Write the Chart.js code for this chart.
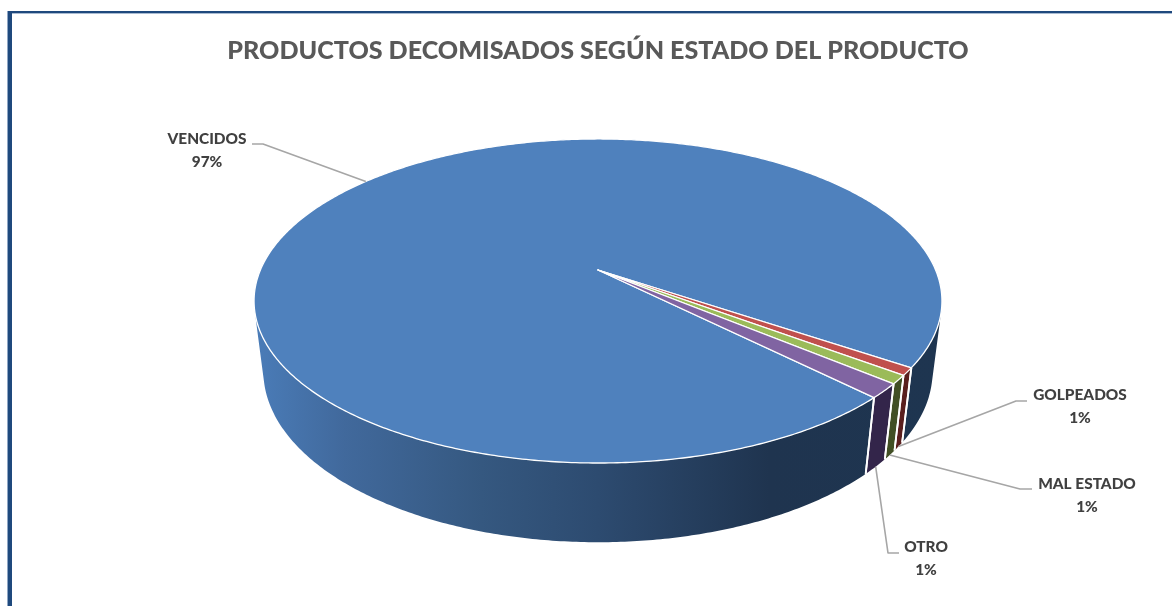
<!DOCTYPE html>
<html lang="es">
<head>
<meta charset="utf-8">
<title>Productos decomisados</title>
<script src="https://cdn.jsdelivr.net/npm/chart.js@4"></script>
<style>
    html, body { margin: 0; padding: 0; background: #fff; overflow: hidden; }
    #bordeIzq { position: absolute; left: 8px; top: 11px; width: 4px; height: 595px; background: #1F497D; box-shadow: -1px 0 0 #8FA6C4; }
    #bordeSup { position: absolute; left: 8px; top: 11px; right: 0; height: 2px; background: #1F497D; box-shadow: 0 1px 0 #A9BBD2; }
    canvas { position: absolute; left: 0; top: 0; }
</style>
</head>
<body>
<div id="bordeSup"></div>
<div id="bordeIzq"></div>
<canvas id="myChart" width="1172" height="606"></canvas>
<script>
const titulo = 'PRODUCTOS DECOMISADOS SEGÚN ESTADO DEL PRODUCTO';
const categorias = ['VENCIDOS', 'GOLPEADOS', 'MAL ESTADO', 'OTRO'];
const valores = [96.95, 0.75, 0.85, 1.45];

const coloresTapa = ['#4F81BD', '#C0504D', '#9BBB59', '#8064A2'];
const coloresPared = ['#1E3550', '#5A1F1E', '#414F24', '#33254A'];

// donde va cada etiqueta y el codo de su linea guia
const posEtiquetas = [
    { x: 207, y: 139, codo: [[263, 144], [252, 144]], desdeTapa: true },
    { x: 1080, y: 395, codo: [[1016, 401], [1027, 401]] },
    { x: 1087, y: 484, codo: [[1020, 489], [1032, 489]] },
    { x: 926, y: 547, codo: [[888, 553], [899, 553]] }
];

// proyeccion del disco con perspectiva
const cx = 598, cy = 270;
const radioX = 337.6, radioY = 156.1;
const persp = 0.1913, fondo = 0.027, alto = 71.4;

function proyectar(ang, h) {
    const u = Math.cos(ang), v = Math.sin(ang);
    const w = 1 - persp * v + fondo * h;
    return [cx + radioX * u / w, cy + (radioY * v + alto * h) / w];
}

function muestras(a0, a1) {
    const n = Math.max(2, Math.ceil((a1 - a0) / 0.01));
    const lista = [];
    for (let i = 0; i <= n; i++) {
        lista.push(a0 + (a1 - a0) * i / n);
    }
    return lista;
}

// true si ese trozo de pared mira hacia la camara
function deFrente(a0, a1) {
    const p = [proyectar(a0, 0), proyectar(a1, 0), proyectar(a1, 1), proyectar(a0, 1)];
    let area = 0;
    for (let i = 0; i < 4; i++) {
        const q = p[(i + 1) % 4];
        area += p[i][0] * q[1] - q[0] * p[i][1];
    }
    return area < 0;
}

function pintarPared(ctx, a0, a1, relleno) {
    const angulos = muestras(a0, a1);
    let tramo = [];
    const cerrar = () => {
        if (tramo.length < 2) return;
        ctx.beginPath();
        tramo.forEach((a, i) => {
            const p = proyectar(a, 0);
            if (i === 0) ctx.moveTo(p[0], p[1]); else ctx.lineTo(p[0], p[1]);
        });
        tramo.slice().reverse().forEach(a => {
            const p = proyectar(a, 1);
            ctx.lineTo(p[0], p[1]);
        });
        ctx.closePath();
        ctx.fillStyle = relleno;
        ctx.fill();
    };
    for (let i = 0; i < angulos.length - 1; i++) {
        if (deFrente(angulos[i], angulos[i + 1])) {
            if (tramo.length === 0) tramo.push(angulos[i]);
            tramo.push(angulos[i + 1]);
        } else {
            cerrar();
            tramo = [];
        }
    }
    cerrar();
}

const pastel3d = {
    id: 'pastel3d',
    beforeDatasetsDraw(chart) {
        const ctx = chart.ctx;
        const arcos = chart.getDatasetMeta(0).data;

        const grad = ctx.createLinearGradient(255, 0, 940, 0);
        grad.addColorStop(0, '#4A7CB8');
        grad.addColorStop(0.13, '#41699C');
        grad.addColorStop(0.33, '#355880');
        grad.addColorStop(0.5, '#2D4B70');
        grad.addColorStop(0.75, '#1F344F');
        grad.addColorStop(1, '#1E3550');

        ctx.save();
        ctx.lineJoin = 'round';

        // paredes
        arcos.forEach((arco, i) => {
            pintarPared(ctx, arco.startAngle, arco.endAngle, i === 0 ? grad : coloresPared[i]);
        });
        ctx.strokeStyle = '#fff';
        ctx.lineWidth = 1.8;
        arcos.forEach(arco => {
            [arco.startAngle, arco.endAngle].forEach(a => {
                const p0 = proyectar(a, 0), p1 = proyectar(a, 1);
                ctx.beginPath();
                ctx.moveTo(p0[0], p0[1]);
                ctx.lineTo(p1[0], p1[1]);
                ctx.stroke();
            });
        });

        // tapa
        ctx.lineWidth = 1.3;
        arcos.forEach((arco, i) => {
            ctx.beginPath();
            ctx.moveTo(cx, cy);
            muestras(arco.startAngle, arco.endAngle).forEach(a => {
                const p = proyectar(a, 0);
                ctx.lineTo(p[0], p[1]);
            });
            ctx.closePath();
            ctx.fillStyle = coloresTapa[i];
            ctx.fill();
            ctx.stroke();
        });

        // lineas guia y etiquetas
        const total = valores.reduce((a, b) => a + b, 0);
        arcos.forEach((arco, i) => {
            const pos = posEtiquetas[i];
            const medio = (arco.startAngle + arco.endAngle) / 2;
            const ini = proyectar(medio, pos.desdeTapa ? 0 : 1);
            ctx.beginPath();
            ctx.moveTo(ini[0], ini[1]);
            pos.codo.forEach(p => ctx.lineTo(p[0], p[1]));
            ctx.strokeStyle = '#A6A6A6';
            ctx.lineWidth = 1.6;
            ctx.stroke();

            ctx.fillStyle = '#404040';
            ctx.font = '900 15.4px Lato';
            ctx.textAlign = 'center';
            ctx.textBaseline = 'middle';
            ctx.fillText(categorias[i], pos.x, pos.y);
            ctx.fillText(Math.round(valores[i] / total * 100) + '%', pos.x, pos.y + 23.5);
        });
        ctx.restore();
        return false;
    }
};

const ctx = document.getElementById('myChart').getContext('2d');
let myChart = new Chart(ctx, {
    type: 'pie',
    data: {
        labels: categorias,
        datasets: [{
            data: valores,
            backgroundColor: coloresTapa
        }]
    },
    options: {
        responsive: false,
        animation: false,
        rotation: 135,
        layout: { padding: { left: 24, top: 0 } },
        plugins: {
            legend: { display: false },
            tooltip: { enabled: false },
            title: {
                display: true,
                text: titulo,
                color: '#595959',
                font: { family: 'Lato', size: 25.1, weight: '900' },
                padding: { top: 36, bottom: 10 }
            }
        }
    },
    plugins: [pastel3d]
});
</script>
</body>
</html>
